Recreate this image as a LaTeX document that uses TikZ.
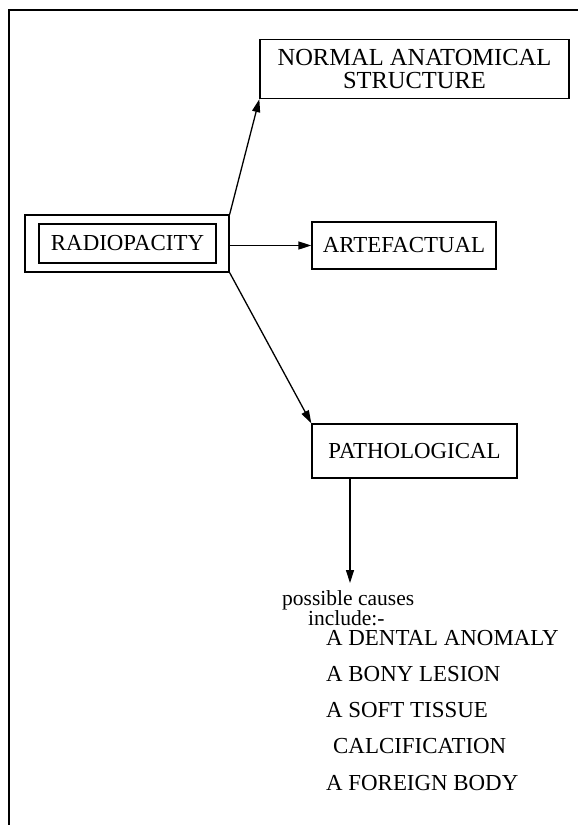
\documentclass[tikz,border=0pt]{standalone}
\usepackage{fontspec}
\setmainfont{Liberation Serif}
\usetikzlibrary{arrows.meta}
\begin{document}
\begin{tikzpicture}[x=1pt,y=-1pt,
  boxed/.style={draw,line width=1.3pt,minimum height=#1,inner sep=0pt},
  lbl/.style={font=\fontsize{22.9}{24}\selectfont},
  listtxt/.style={anchor=base west,inner sep=0pt,font=\fontsize{22.9}{24}\selectfont},
  smalltxt/.style={anchor=base west,inner sep=0pt,font=\fontsize{21.5}{22}\selectfont},
  conn/.style={line width=1.3pt,-{Triangle[length=13pt,width=8pt]}},
  frameline/.style={line width=1.5pt}]
\useasboundingbox (0,0) rectangle (578,825);
% frame
\coordinate (ftl) at (9,10);
\coordinate (ftr) at (578,10);
\coordinate (fbl) at (9,825);
\draw[frameline] (ftr) -- (ftl) -- (fbl);
% nodes
\node[boxed=59pt,minimum width=309pt,align=center,font=\fontsize{24.5}{23}\selectfont] (normal) at (414.5,69) {NORMAL ANATOMICAL\\STRUCTURE};
\node[boxed=57pt,minimum width=204pt] (radout) at (127,243.5) {};
\node[boxed=39pt,minimum width=177pt,lbl] (radin) at (127.5,243.5) {RADIOPACITY};
\node[boxed=47pt,minimum width=184pt,lbl] (art) at (404,245.5) {ARTEFACTUAL};
\node[boxed=54pt,minimum width=205pt,lbl] (path) at (414.5,451) {PATHOLOGICAL};
\coordinate (pathout) at (350,478);
\coordinate (downend) at (350,583);
% texts
\node[smalltxt] (poss) at (282,605) {possible causes};
\node[smalltxt] (incl) at (308,625) {include:-};
\node[listtxt] (dental) at (326,645) {A DENTAL ANOMALY};
\node[listtxt] (bony) at (326,681) {A BONY LESION};
\node[listtxt] (soft) at (326,717) {A SOFT TISSUE};
\node[listtxt] (calc) at (333,753) {CALCIFICATION};
\node[listtxt] (foreign) at (326,790) {A FOREIGN BODY};
% connectors
\draw[conn] (radout.north east) -- (normal.south west);
\draw[conn] (radout.east |- art.west) -- (art.west);
\draw[conn] (radout.south east) -- (path.north west);
\draw[conn] (pathout) -- (downend);
\end{tikzpicture}
\end{document}
